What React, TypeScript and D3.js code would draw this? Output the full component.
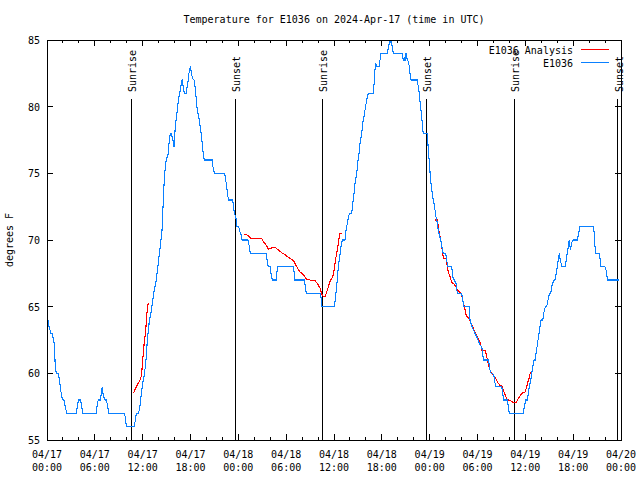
import React from "react";
import * as d3 from "d3";

// ---- data (hours since 2024-04-17 00:00 UTC, temperature in °F) ----
const obsHours = [0.13,0.25,0.38,0.41,0.63,0.75,0.88,0.97,1.04,1.17,1.42,1.51,1.63,1.76,1.88,2.01,2.13,2.22,2.38,2.47,3.68,3.85,3.98,4.23,4.30,4.43,4.48,6.18,6.31,6.44,6.69,6.81,6.94,7.02,7.15,7.28,7.44,7.56,7.69,7.74,9.70,9.82,9.91,10.00,10.95,11.08,11.20,11.45,11.58,11.70,11.83,11.95,12.08,12.21,12.33,12.46,12.58,12.76,12.83,12.96,13.08,13.21,13.33,13.46,13.58,13.71,13.96,14.21,14.43,14.59,14.71,14.84,14.96,15.22,15.34,15.47,15.64,15.72,15.84,15.93,16.02,16.09,16.22,16.34,16.47,16.60,16.72,16.85,16.97,17.06,17.15,17.22,17.47,17.56,17.69,17.77,17.90,17.98,18.06,18.15,18.28,18.44,18.60,18.73,18.85,19.03,19.15,19.28,19.41,19.48,19.61,19.73,20.70,20.82,20.99,22.29,22.42,22.54,22.67,22.79,23.29,23.39,23.52,23.71,23.80,24.05,24.21,24.34,24.46,25.21,25.38,25.50,27.47,27.63,27.76,27.97,28.10,28.26,28.73,28.81,28.94,30.90,31.02,31.06,32.28,32.40,32.53,34.24,34.41,34.50,36.04,36.16,36.29,36.41,36.54,36.72,36.84,37.04,37.38,37.51,37.72,37.82,38.01,38.22,38.35,38.51,38.64,38.85,38.97,39.14,39.26,39.48,39.60,39.76,39.89,40.10,40.30,40.43,40.93,41.06,41.14,41.23,41.36,41.68,41.77,41.90,42.69,42.81,42.94,43.03,43.11,43.19,43.31,43.44,44.49,44.62,44.69,44.82,44.91,45.03,45.20,45.32,45.45,45.53,45.66,46.45,46.57,46.70,46.79,46.91,47.04,47.08,47.20,47.70,47.83,47.95,48.09,48.26,48.38,48.54,48.67,48.79,48.96,49.08,49.21,49.39,49.51,49.64,49.80,50.01,50.14,50.26,50.77,50.89,51.09,51.30,51.39,51.52,52.02,52.15,52.31,52.97,53.06,53.31,53.69,54.07,54.32,54.53,54.66,54.73,55.36,55.48,55.57,55.70,55.91,56.07,56.20,56.32,57.04,57.16,57.29,57.74,57.86,57.99,59.75,59.87,60.05,60.25,60.37,60.50,60.68,60.80,60.93,61.09,61.25,61.34,61.47,61.59,61.72,61.84,61.97,62.18,62.26,62.38,62.51,62.68,62.81,62.93,63.06,63.18,63.31,63.43,63.60,63.72,63.81,63.94,64.06,64.19,64.26,64.35,64.43,64.56,65.02,65.10,65.19,65.32,65.44,65.52,65.61,65.69,65.77,65.90,66.02,66.52,66.65,66.78,66.86,68.53,68.65,68.74,68.83,69.24,69.37,69.49,69.99,70.12,70.25,70.33,71.79];
const obsTemps = [64,63.5,63.25,63,63,62.7,62.3,61.5,60.45,60,60,59.7,59.2,58.6,58.2,58,58,57.7,57.25,57,57,57.7,58,58,57.7,57.25,57,57,57.7,58,58,58.5,59,58.5,58.2,58,58,57.7,57.25,57,57,56.7,56.25,56,56,56.5,57,57,57.25,57.7,58.5,59,59.5,59.9,60.5,61.25,62.5,63.4,64,64.25,64.7,65.25,65.75,66.25,66.6,67,68.3,69.5,70.75,73,74.5,75.5,76,76.5,77.5,78,78,77.6,77.4,77,77.75,78.5,79.1,79.75,80.4,80.9,81.25,81.75,82.05,81.6,81.25,81,81,81.4,81.9,82.4,82.75,83.05,82.75,82.4,82.1,82,81.4,80.5,79.75,79.25,78.75,78.25,77.6,77.1,76.4,76,76,75.5,75,75,74.5,74,73.3,73,73,72.5,72,71.6,71,71,70.6,70.4,70,70,69.5,69,69,68.4,68,68,67.5,67,67,67.5,68,68,67.5,67,67,66.5,66,66,65.6,65,65,65.5,66.25,67,68,68.75,69.4,70,70,70.75,71.4,71.8,72,72,72.75,73.5,74.25,75,75.75,76.5,77.25,78,78.75,79.25,79.75,80.5,81,81,81,82,82.75,83.25,83,83,83.5,84,84,84.4,84.75,85,84.75,85,84.4,84,84,83.9,83.4,83.75,83.4,84,83.5,83.4,83,82.5,82,82,81.5,81,80.4,79.75,79,78.5,78,78,76.75,75.9,74.7,73.75,73.25,72.75,72.25,71.75,71.25,70.75,70.4,70,69.6,69.1,69,69,68.5,68,68,67.25,67,66.75,66.25,66,66,65.5,65,65,64,63.5,63,62.5,62.1,62,61.5,61,61,60.6,60.25,60,60,59.75,59.25,59,59,58.5,58,58,57.5,57,57,57.5,58,58,58.5,59,59.5,60,60.5,61,61,61.5,62,62.5,63,63.5,64,64,64.25,64.75,65,65,65.4,65.75,66,66,66.5,66.75,67,67,67.25,67.75,68.25,68.75,69,68.6,68.4,68.05,68,68.4,68.75,69.25,69.75,70,69.5,69.25,69.75,69.9,70,70,70.4,70.75,71,71,70.5,69.5,69,69,68.6,68,68,67.75,67.25,67,67];

const anaHoursA = [10.83,11.25,11.67,11.88,11.95,12.08,12.21,12.38,12.46,12.58,12.67,12.83];
const anaTempsA = [58.5,59.05,59.5,59.9,60.7,61.5,62.4,63.1,64,64.75,65.2,65.2];
const anaHoursB = [24.71,25.05,25.46,25.68,26.93,27.13,27.56,27.76,28.19,28.60,29.01,29.44,29.85,30.27,30.69,30.98,31.23,31.52,31.74,32.15,32.58,32.99,33.62,33.91,34.24,34.46,34.66,34.87,35.09,35.29,35.50,35.84,36.00,36.21,36.42,36.63,36.75,36.97];
const anaTempsB = [70.45,70.4,70.2,70.08,70.1,69.9,69.55,69.3,69.4,69.45,69.25,69.05,68.9,68.7,68.55,68.4,68.1,67.8,67.6,67.4,67.05,67,66.95,66.75,66.4,65.95,65.75,65.75,66.1,66.5,66.9,67.25,67.7,68.6,69.25,70.1,70.5,70.5];
const anaHoursC = [48.67,48.96,49.08,49.21,49.39,49.51,49.64,49.80,50.05,50.22,50.34,50.55,50.77,50.97,51.27,51.47,51.72,51.90,52.06,52.23,52.44,52.57,52.73,52.98,53.31,53.82,54.32,54.44,54.53,54.73,54.95,55.07,55.16,55.28,55.44,55.57,55.78,55.98,56.19,56.40,56.60,56.82,57.03,57.16,57.32,57.45,57.66,57.86,58.07,58.28,58.48,58.82,58.99,59.11,59.33,59.54,59.75,59.96,60.17,60.30,60.46,60.58,60.71];
const anaTempsC = [71.5,71.5,71,70.5,70,69.5,68.9,68.6,68.6,68,67.6,67.25,66.8,66.75,66.5,66.25,66.1,66,65.75,65.25,64.75,64.4,64.2,64.1,63.6,62.9,62.3,62.05,61.75,61.7,61.7,61.5,61.25,60.9,60.5,60.25,60,59.9,59.7,59.5,59.25,59.1,59.1,58.9,58.6,58.4,58.1,58,57.95,57.9,57.8,57.8,57.95,58.1,58.3,58.5,58.55,58.6,59,59.3,59.6,59.95,60.1];

const sunEventHours = [10.57, 23.62, 34.53, 47.58, 58.62, 71.60];
const sunEventLabels = ["Sunrise", "Sunset", "Sunrise", "Sunset", "Sunrise", "Sunset"];

const yTicks = [55, 60, 65, 70, 75, 80, 85];
const seriesNames = ["E1036 Analysis", "E1036"];
const titleText = "Temperature for E1036 on 2024-Apr-17 (time in UTC)";
const yLabel = "degrees F";

const BASE = Date.UTC(2024, 3, 17, 0, 0);
const toDate = (h: number) => new Date(BASE + h * 3600 * 1000);

export default function App() {
  const W = 640, H = 480;
  const L = 47, R = 621, T = 40, B = 440;
  const font = "'DejaVu Sans Mono', 'Liberation Mono', monospace";
  const fs = 10;
  const blue = "#0a80ff";
  const red = "#ff0000";

  const x = d3.scaleUtc().domain([toDate(0), toDate(72)]).range([L, R]);
  const y = d3.scaleLinear().domain([55, 85]).range([B, T]);

  const line = d3
    .line<[number, number]>()
    .x((d) => x(toDate(d[0])))
    .y((d) => y(d[1]));

  const obs: [number, number][] = obsHours.map((h, i) => [h, obsTemps[i]]);
  const anaSegs: [number, number][][] = [
    anaHoursA.map((h, i) => [h, anaTempsA[i]] as [number, number]),
    anaHoursB.map((h, i) => [h, anaTempsB[i]] as [number, number]),
    anaHoursC.map((h, i) => [h, anaTempsC[i]] as [number, number]),
  ];

  const majorTicks = x.ticks(d3.utcHour.every(6)!);
  const minorTicks = x.ticks(d3.utcHour.every(2)!).filter((d) => d.getUTCHours() % 6 !== 0);
  const fmtDate = d3.utcFormat("%m/%d");
  const fmtTime = d3.utcFormat("%H:%M");

  const majLen = 6, minLen = 3;

  return (
    <svg
      width={W}
      height={H}
      style={{ position: "absolute", left: 0, top: 0, background: "#fff" }}
      fontFamily={font}
      fontSize={fs}
    >
      <rect x={0} y={0} width={W} height={H} fill="#fff" />
      <defs>
        <clipPath id="plotclip">
          <rect x={L} y={T - 1} width={R - L} height={B - T + 2} />
        </clipPath>
      </defs>

      {/* title */}
      <text x={(L + R) / 2} y={23} textAnchor="middle" fill="#000">
        {titleText}
      </text>

      {/* y ticks */}
      {yTicks.map((v) => (
        <g key={"y" + v} shapeRendering="crispEdges">
          <line x1={L} x2={L + majLen} y1={y(v)} y2={y(v)} stroke="#000" />
          <line x1={R} x2={R - majLen} y1={y(v)} y2={y(v)} stroke="#000" />
          <text x={40} y={y(v) + 4} textAnchor="end" fill="#000">
            {v}
          </text>
        </g>
      ))}

      {/* x ticks */}
      {minorTicks.map((d, i) => (
        <g key={"mx" + i} shapeRendering="crispEdges">
          <line x1={x(d)} x2={x(d)} y1={B} y2={B - minLen} stroke="#000" />
          <line x1={x(d)} x2={x(d)} y1={T} y2={T + minLen} stroke="#000" />
        </g>
      ))}
      {majorTicks.map((d, i) => (
        <g key={"x" + i}>
          <line x1={x(d)} x2={x(d)} y1={B} y2={B - majLen} stroke="#000" shapeRendering="crispEdges" />
          <line x1={x(d)} x2={x(d)} y1={T} y2={T + majLen} stroke="#000" shapeRendering="crispEdges" />
          <text x={x(d)} y={458} textAnchor="middle" fill="#000">
            {fmtDate(d)}
          </text>
          <text x={x(d)} y={471} textAnchor="middle" fill="#000">
            {fmtTime(d)}
          </text>
        </g>
      ))}

      {/* sunrise / sunset markers */}
      {sunEventHours.map((h, i) => {
        const xx = x(toDate(h));
        return (
          <g key={"s" + i}>
            <line x1={xx} x2={xx} y1={99} y2={B} stroke="#000" shapeRendering="crispEdges" />
            <text
              transform={`translate(${xx + 5},92) rotate(-90)`}
              textAnchor="start"
              fill="#000"
            >
              {sunEventLabels[i]}
            </text>
          </g>
        );
      })}

      {/* data */}
      <g clipPath="url(#plotclip)">
        {anaSegs.map((seg, i) => (
          <path key={"a" + i} d={line(seg) || ""} fill="none" stroke={red} strokeWidth={1.1} shapeRendering="crispEdges" />
        ))}
        <path d={line(obs) || ""} fill="none" stroke={blue} strokeWidth={1.1} shapeRendering="crispEdges" />
      </g>

      {/* frame */}
      <rect x={L} y={T} width={R - L} height={B - T} fill="none" stroke="#000" shapeRendering="crispEdges" />

      {/* y label */}
      <text transform={`translate(13,240) rotate(-90)`} textAnchor="middle" fill="#000">
        {yLabel}
      </text>

      {/* legend */}
      <text x={573} y={53.5} textAnchor="end" fill="#000">
        {seriesNames[0]}
      </text>
      <line x1={581} x2={609} y1={49.5} y2={49.5} stroke={red} strokeWidth={1.2} shapeRendering="crispEdges" />
      <text x={573} y={66.5} textAnchor="end" fill="#000">
        {seriesNames[1]}
      </text>
      <line x1={581} x2={609} y1={62.5} y2={62.5} stroke={blue} strokeWidth={1.2} shapeRendering="crispEdges" />
    </svg>
  );
}
